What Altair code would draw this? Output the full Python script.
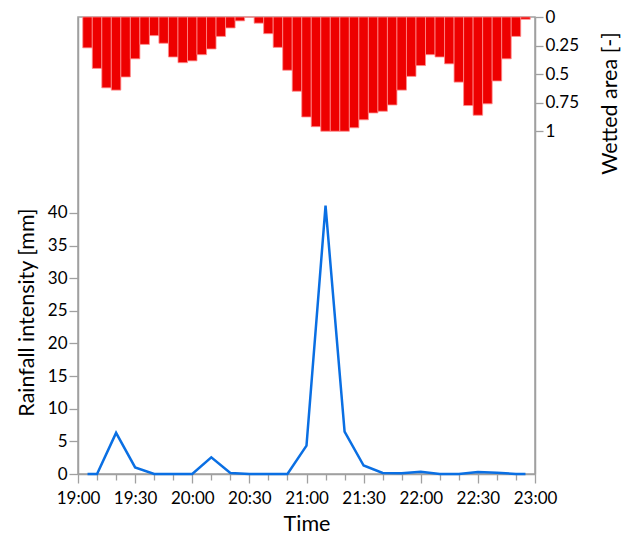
import altair as alt
import pandas as pd

# Rainfall intensity (minutes after 19:00, mm)
rain_minutes = [5, 10, 20, 30, 40, 50, 60, 70, 80, 90, 100, 110, 120,
                130, 140, 150, 160, 170, 180, 190, 200, 210, 220, 230, 235]
rain_mm = [0, 0, 6.3, 1.0, 0, 0, 0, 2.55, 0.15, 0, 0, 0, 4.35,
           41.1, 6.5, 1.3, 0.15, 0.1, 0.35, 0, 0, 0.3, 0.2, 0, 0]

# Wetted area (5-minute bars, centre minute after 19:00)
wet_minutes = [5, 10, 15, 20, 25, 30, 35, 40, 45, 50, 55, 60, 65, 70, 75, 80,
               85, 90, 95, 100, 105, 110, 115, 120, 125, 130, 135, 140, 145,
               150, 155, 160, 165, 170, 175, 180, 185, 190, 195, 200, 205,
               210, 215, 220, 225, 230, 235]
wet_area = [0.27, 0.45, 0.62, 0.64, 0.525, 0.366, 0.24, 0.163, 0.23, 0.35,
            0.40, 0.384, 0.33, 0.28, 0.17, 0.096, 0.034, 0.0, 0.054, 0.146,
            0.266, 0.466, 0.65, 0.875, 0.96, 1.0, 1.0, 1.0, 0.97, 0.90, 0.84,
            0.825, 0.77, 0.64, 0.52, 0.425, 0.33, 0.35, 0.41, 0.57, 0.775,
            0.86, 0.76, 0.56, 0.366, 0.17, 0.02]

major_ticks = [0, 30, 60, 90, 120, 150, 180, 210, 240]
minor_ticks = [10, 20, 40, 50, 70, 80, 100, 110, 130, 140, 160, 170, 190,
               200, 220, 230]
rain_ticks = [0, 5, 10, 15, 20, 25, 30, 35, 40]
wet_ticks = [0, 0.25, 0.5, 0.75, 1]

rain_df = pd.DataFrame({"t": rain_minutes, "mm": rain_mm})
wet_df = pd.DataFrame({"t": wet_minutes, "wet": wet_area})
wet_df["x0"] = wet_df["t"] - 2.5
wet_df["x1"] = wet_df["t"] + 2.5

FONT = "Lato"
xscale = alt.Scale(domain=[0, 240], nice=False, zero=False)

bars = alt.Chart(wet_df).mark_rect(
    color="#ee0000", stroke="#ff8c8c", strokeWidth=0.8
).encode(
    x=alt.X("x0:Q", scale=xscale,
            axis=alt.Axis(orient="bottom", values=major_ticks,
                          labelExpr="(19 + floor(datum.value/60)) + ':' + (datum.value % 60 == 0 ? '00' : '30')",
                          labelOverlap=False, labelFlush=False,
                          tickSize=9, labelPadding=7, title="Time",
                          titleY=56, titleBaseline="alphabetic", grid=False)),
    x2="x1:Q",
    y=alt.Y("wet:Q", scale=alt.Scale(domain=[0, 4], reverse=True, nice=False, zero=True),
            axis=alt.Axis(orient="right", values=wet_ticks, format=".2~f",
                          labelOverlap=False, labelFlush=False,
                          tickSize=8, labelPadding=2, title="Wetted area [-]",
                          titleAngle=270, titleX=81, titleY=86,
                          titleAlign="center", titleBaseline="alphabetic",
                          grid=False)),
    y2=alt.datum(0),
)

line = alt.Chart(rain_df).mark_line(color="#0a6fe3", strokeWidth=2.5).encode(
    x=alt.X("t:Q", scale=xscale,
            axis=alt.Axis(orient="bottom", values=minor_ticks, labels=False,
                          tickSize=6, domain=False, title=None, grid=False)),
    y=alt.Y("mm:Q", scale=alt.Scale(domain=[0, 70], nice=False),
            axis=alt.Axis(orient="left", values=rain_ticks, tickSize=9,
                          labelOverlap=False, labelFlush=False,
                          labelPadding=2, title="Rainfall intensity [mm]",
                          titleAngle=270, titleX=-45, titleY=295,
                          titleAlign="center", titleBaseline="alphabetic",
                          grid=False)),
)

chart = alt.layer(bars, line).resolve_scale(
    y="independent"
).resolve_axis(
    x="independent", y="independent"
).properties(
    width=457, height=457,
    autosize=alt.AutoSizeParams(type="none"),
    padding={"left": 78, "top": 17, "right": 94, "bottom": 62},
).configure_view(
    stroke="#a0a0a0", strokeWidth=1.5
).configure_axis(
    labelFont=FONT, labelFontSize=17, labelColor="#000000",
    titleFont=FONT, titleFontSize=21.5, titleFontWeight="normal",
    titleColor="#000000",
    domainColor="#a0a0a0", domainWidth=1.5,
    tickColor="#a0a0a0", tickWidth=1.3,
)

chart.save("out.html", embed_options={"renderer": "svg", "actions": False})
